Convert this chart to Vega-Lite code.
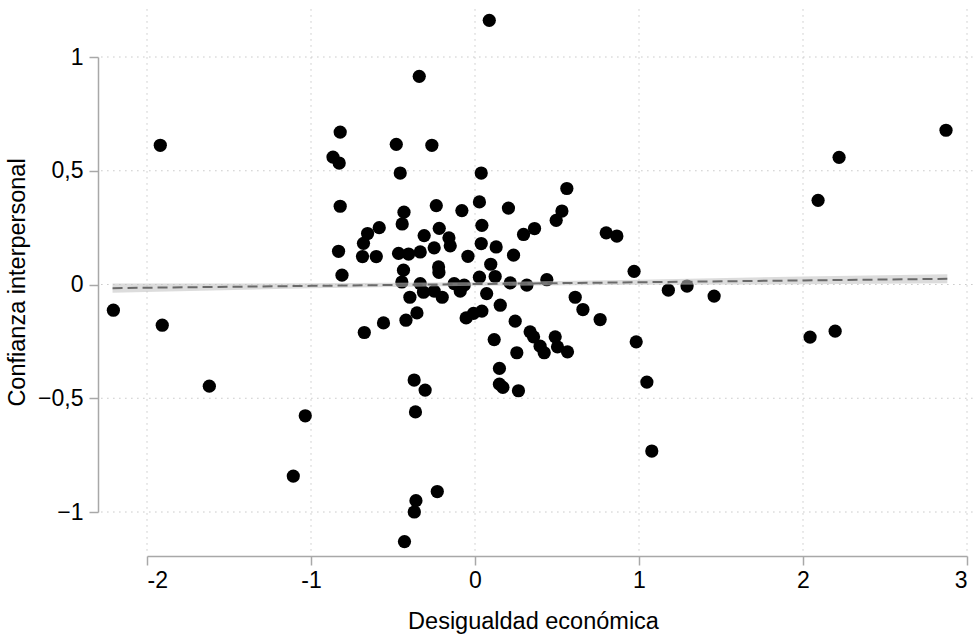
{
  "$schema": "https://vega.github.io/schema/vega-lite/v6.json",
  "autosize": "none",
  "width": 820,
  "height": 455,
  "padding": {"left": 147, "top": 57, "right": 10, "bottom": 124},
  "background": "white",
  "config": {
    "view": {"stroke": null},
    "font": "Liberation Sans"
  },
  "datasets": {
    "pts": [
      {"x": -0.822, "y": 0.670}, {"x": -0.866, "y": 0.560}, {"x": -0.828, "y": 0.534}, {"x": -0.480, "y": 0.616},
      {"x": -0.263, "y": 0.612}, {"x": -0.456, "y": 0.490}, {"x": 0.038, "y": 0.490}, {"x": -0.822, "y": 0.344},
      {"x": -0.236, "y": 0.347}, {"x": -0.080, "y": 0.325}, {"x": 0.027, "y": 0.363}, {"x": -0.433, "y": 0.318},
      {"x": -0.444, "y": 0.266}, {"x": -0.584, "y": 0.250}, {"x": -0.655, "y": 0.224}, {"x": -0.680, "y": 0.181},
      {"x": -0.218, "y": 0.247}, {"x": -0.310, "y": 0.215}, {"x": -0.159, "y": 0.205}, {"x": -0.151, "y": 0.170},
      {"x": 0.042, "y": 0.260}, {"x": 0.038, "y": 0.180}, {"x": -0.832, "y": 0.146}, {"x": -0.686, "y": 0.123},
      {"x": -0.602, "y": 0.123}, {"x": -0.466, "y": 0.137}, {"x": -0.405, "y": 0.134}, {"x": -0.334, "y": 0.143},
      {"x": -0.249, "y": 0.161}, {"x": -0.043, "y": 0.124}, {"x": -0.222, "y": 0.077}, {"x": -0.220, "y": 0.053},
      {"x": -0.436, "y": 0.063}, {"x": -0.811, "y": 0.041}, {"x": 0.027, "y": 0.032}, {"x": 0.096, "y": 0.089},
      {"x": -0.446, "y": 0.011}, {"x": -0.334, "y": 0.004}, {"x": -0.314, "y": -0.034}, {"x": -0.397, "y": -0.056},
      {"x": -0.249, "y": -0.029}, {"x": -0.200, "y": -0.056}, {"x": -0.127, "y": 0.004}, {"x": -0.066, "y": -0.003},
      {"x": -0.090, "y": -0.029}, {"x": 0.071, "y": -0.040}, {"x": -0.354, "y": -0.125}, {"x": -0.421, "y": -0.157},
      {"x": -0.558, "y": -0.169}, {"x": -0.675, "y": -0.211}, {"x": -0.054, "y": -0.147}, {"x": -0.009, "y": -0.127},
      {"x": 0.042, "y": -0.117}, {"x": -0.371, "y": -0.420}, {"x": -0.304, "y": -0.464}, {"x": -0.363, "y": -0.560},
      {"x": -1.035, "y": -0.577}, {"x": 0.123, "y": 0.035}, {"x": 0.215, "y": 0.007}, {"x": 0.316, "y": -0.003},
      {"x": 0.438, "y": 0.021}, {"x": 0.970, "y": 0.058}, {"x": 1.179, "y": -0.025}, {"x": 0.154, "y": -0.091},
      {"x": 0.245, "y": -0.161}, {"x": 0.611, "y": -0.056}, {"x": 0.658, "y": -0.110}, {"x": 0.763, "y": -0.154},
      {"x": 0.117, "y": -0.242}, {"x": 0.336, "y": -0.208}, {"x": 0.357, "y": -0.230}, {"x": 0.397, "y": -0.271},
      {"x": 0.422, "y": -0.300}, {"x": 0.489, "y": -0.230}, {"x": 0.503, "y": -0.274}, {"x": 0.564, "y": -0.296},
      {"x": 0.255, "y": -0.300}, {"x": 0.149, "y": -0.369}, {"x": 0.149, "y": -0.438}, {"x": 0.170, "y": -0.452},
      {"x": 0.265, "y": -0.467}, {"x": 0.983, "y": -0.252}, {"x": 1.048, "y": -0.429}, {"x": 1.078, "y": -0.732},
      {"x": 0.560, "y": 0.422}, {"x": 0.204, "y": 0.336}, {"x": 0.530, "y": 0.323}, {"x": 0.495, "y": 0.282},
      {"x": 0.296, "y": 0.220}, {"x": 0.363, "y": 0.246}, {"x": 0.800, "y": 0.227}, {"x": 0.865, "y": 0.213},
      {"x": 0.129, "y": 0.165}, {"x": 0.235, "y": 0.129}, {"x": 0.087, "y": 1.161}, {"x": -0.340, "y": 0.915},
      {"x": -1.919, "y": 0.612}, {"x": 2.872, "y": 0.678}, {"x": 2.220, "y": 0.559}, {"x": 2.092, "y": 0.370},
      {"x": -2.205, "y": -0.113}, {"x": -1.907, "y": -0.179}, {"x": -1.620, "y": -0.447}, {"x": -1.108, "y": -0.842},
      {"x": -0.36, "y": -0.95}, {"x": -0.37, "y": -1.0}, {"x": -0.43, "y": -1.13}, {"x": -0.23, "y": -0.91},
      {"x": 1.293, "y": -0.007}, {"x": 1.458, "y": -0.051}, {"x": 2.043, "y": -0.231}, {"x": 2.196, "y": -0.205}
    ],
    "fit": [
      {"x": -2.21, "y": -0.016, "lo": -0.036, "hi": 0.004},
      {"x": -1, "y": -0.006, "lo": -0.017, "hi": 0.005},
      {"x": 0, "y": 0.002, "lo": -0.006, "hi": 0.010},
      {"x": 1, "y": 0.010, "lo": -0.001, "hi": 0.021},
      {"x": 2, "y": 0.018, "lo": 0.001, "hi": 0.035},
      {"x": 2.88, "y": 0.025, "lo": 0.005, "hi": 0.045}
    ],
    "xgrid": [{"v": -2}, {"v": -1}, {"v": 0}, {"v": 1}, {"v": 2}, {"v": 3}],
    "ygrid": [{"v": -1}, {"v": -0.5}, {"v": 0}, {"v": 0.5}, {"v": 1}]
  },
  "layer": [
    {
      "data": {"name": "xgrid"},
      "mark": {"type": "rule", "color": "#c8c8c8", "strokeWidth": 1, "strokeDash": [1.5, 4.5]},
      "encoding": {
        "x": {"field": "v", "type": "quantitative"},
        "y": {"datum": -1.17},
        "y2": {"datum": 1.214}
      }
    },
    {
      "data": {"name": "ygrid"},
      "mark": {"type": "rule", "color": "#c8c8c8", "strokeWidth": 1, "strokeDash": [1.5, 4.5]},
      "encoding": {
        "y": {"field": "v", "type": "quantitative"},
        "x": {"datum": -2.28},
        "x2": {"datum": 3.06}
      }
    },
    {
      "data": {"name": "pts"},
      "mark": {"type": "point", "filled": true, "color": "#000000", "opacity": 1, "size": 175},
      "encoding": {
        "x": {
          "field": "x", "type": "quantitative",
          "scale": {"domain": [-2, 3], "nice": false, "zero": false},
          "axis": {
            "values": [-2, -1, 0, 1, 2, 3],
            "grid": false,
            "offset": 44,
            "domainColor": "#a8a8a8", "domainWidth": 1.5,
            "tickColor": "#a8a8a8", "tickWidth": 1.5, "tickSize": 9,
            "labelFont": "Liberation Sans", "labelFontSize": 23, "labelColor": "#000000",
            "labelPadding": 4,
            "labelExpr": "replace(format(datum.value, '~g'), '\u2212', '-')",
            "title": "Desigualdad económica",
            "titleFont": "Liberation Sans", "titleFontSize": 23.5, "titleFontWeight": "normal", "titleColor": "#000000",
            "titleX": 386, "titleY": 72, "titleBaseline": "alphabetic", "titleAnchor": "middle", "titleAlign": "center"
          }
        },
        "y": {
          "field": "y", "type": "quantitative",
          "scale": {"domain": [-1, 1], "nice": false, "zero": false},
          "axis": {
            "values": [-1, -0.5, 0, 0.5, 1],
            "grid": false,
            "offset": 49,
            "domainColor": "#a8a8a8", "domainWidth": 1.5,
            "tickColor": "#a8a8a8", "tickWidth": 1.5, "tickSize": 9,
            "labelFont": "Liberation Sans", "labelFontSize": 23, "labelColor": "#000000",
            "labelPadding": 6,
            "labelExpr": "replace(format(datum.value, '~g'), '.', ',')",
            "title": "Confianza interpersonal",
            "titleFont": "Liberation Sans", "titleFontSize": 23.5, "titleFontWeight": "normal", "titleColor": "#000000",
            "titleX": -74, "titleY": 225, "titleBaseline": "alphabetic", "titleAngle": -90, "titleAlign": "center"
          }
        }
      }
    },
    {
      "data": {"name": "fit"},
      "mark": {"type": "area", "color": "#c4c4c4", "opacity": 0.6},
      "encoding": {
        "x": {"field": "x", "type": "quantitative"},
        "y": {"field": "lo", "type": "quantitative"},
        "y2": {"field": "hi"}
      }
    },
    {
      "data": {"name": "fit"},
      "mark": {"type": "line", "color": "#6a6a6a", "strokeWidth": 2, "strokeDash": [10, 5]},
      "encoding": {
        "x": {"field": "x", "type": "quantitative"},
        "y": {"field": "y", "type": "quantitative"}
      }
    }
  ]
}
